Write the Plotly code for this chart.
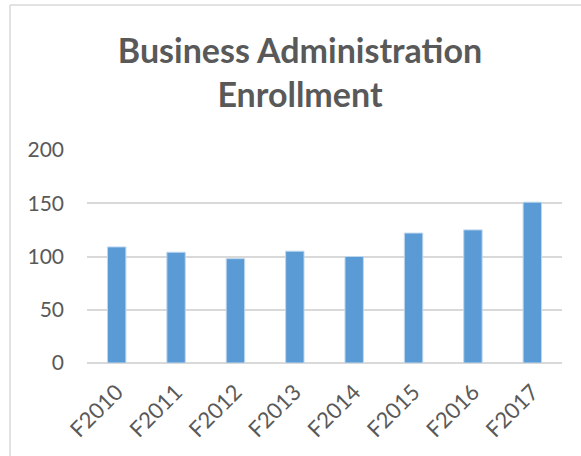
import plotly.graph_objects as go

# Fall enrollment by term
terms = ["F2010", "F2011", "F2012", "F2013", "F2014", "F2015", "F2016", "F2017"]
enrollment = [109, 104, 98, 105, 100, 122, 125, 151]
y_ticks = [0, 50, 100, 150, 200]

W, H = 581, 456
left, right, top, bottom = 87, 19, 150, 93
plot_w = W - left - right
plot_h = H - top - bottom

text_color = "#595959"
grid_color = "#D9D9D9"
font_family = "Lato, 'Open Sans', sans-serif"

fig = go.Figure(
    go.Bar(
        x=terms,
        y=enrollment,
        marker=dict(color="#5B9BD5", line=dict(color="#BDD7EE", width=1)),
        width=0.31,
    )
)

# Outer chart frame (open at right and bottom)
fx0 = (10 - left) / plot_w
fy1 = (H - bottom - 5) / plot_h
fig.add_shape(type="line", xref="paper", yref="paper",
              x0=fx0, x1=fx0, y0=fy1, y1=-1, line=dict(color=grid_color, width=1.5))
fig.add_shape(type="line", xref="paper", yref="paper",
              x0=fx0, x1=2, y0=fy1, y1=fy1, line=dict(color=grid_color, width=1.5))

fig.update_layout(
    width=W,
    height=H,
    margin=dict(l=left, r=right, t=top, b=bottom),
    paper_bgcolor="white",
    plot_bgcolor="white",
    showlegend=False,
    font=dict(family=font_family, color=text_color, size=21),
    title=dict(
        text="<b>Business Administration<br>Enrollment</b>",
        font=dict(family=font_family, size=34, color=text_color),
        x=300 / W,
        xanchor="center",
        xref="container",
        y=1 - 63 / H,
        yanchor="middle",
        yref="container",
    ),
    xaxis=dict(
        tickangle=-45,
        showgrid=False,
        showline=False,
        ticks="",
        ticklabelstandoff=11,
        tickfont=dict(size=22, color=text_color),
    ),
    yaxis=dict(
        range=[0, 200],
        tickvals=y_ticks,
        showgrid=True,
        gridcolor=grid_color,
        gridwidth=1.5,
        zeroline=True,
        zerolinecolor=grid_color,
        zerolinewidth=1.5,
        showline=False,
        ticks="",
        ticklabelstandoff=22,
        tickfont=dict(size=21, color=text_color),
    ),
)

fig.write_html("out.html")
